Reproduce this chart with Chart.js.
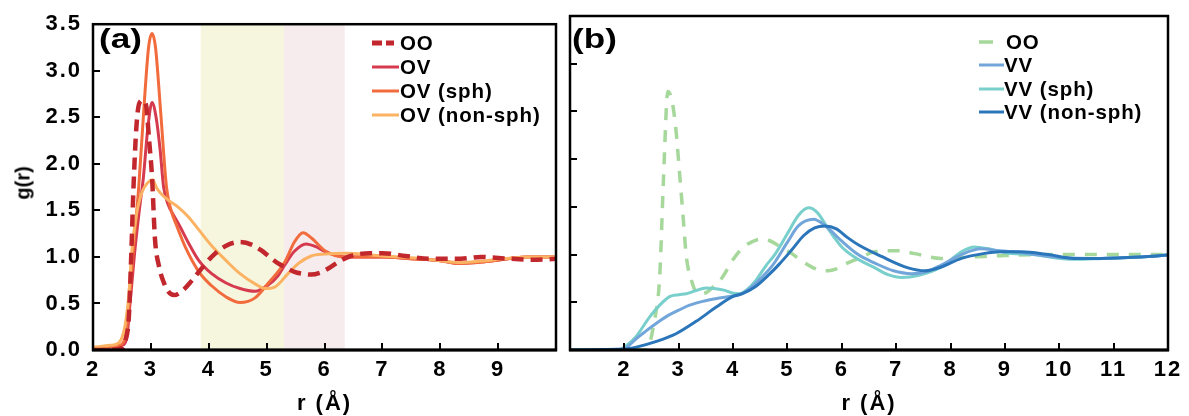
<!DOCTYPE html>
<html>
<head>
<meta charset="utf-8">
<script src="https://cdn.jsdelivr.net/npm/chart.js@4"></script>
<style>
body { margin: 0; background: #fff; width: 1189px; height: 416px; overflow: hidden; position: relative; font-family: "Liberation Sans", Arial, sans-serif; }
.panel { position: absolute; top: 0; height: 416px; }
#pa { left: 0; width: 563px; }
#pb { left: 563px; width: 626px; }
.tag { position: absolute; top: 24px; font-weight: bold; font-size: 27px; color: #000; transform: scaleX(1.3); transform-origin: left top; }
.ytitle { position: absolute; left: 23px; top: 183px; font-weight: bold; font-size: 20px; color: #000; transform: translate(-50%, -50%) rotate(-90deg); white-space: nowrap; }
.leg { position: absolute; font-weight: bold; font-size: 20.5px; letter-spacing: 0.9px; color: #000; }
.leg .row { display: flex; align-items: center; }
.leg svg { display: block; flex: none; }
</style>
</head>
<body>
<div class="panel" id="pa"><canvas id="chartA"></canvas></div>
<div class="panel" id="pb"><canvas id="chartB"></canvas></div>
<div class="tag" style="left:99px">(a)</div>
<div class="tag" style="left:572px">(b)</div>
<div class="ytitle">g(r)</div>
<div class="leg" id="legA" style="left:372px;top:31px"></div>
<div class="leg" id="legB" style="left:979px;top:30px"></div>
<script>
//panel (a) data: O-O and O-V g(r)
var rOO_a = [2.0, 2.3, 2.5, 2.56, 2.62, 2.66, 2.70, 2.75, 2.80, 2.86, 2.92, 2.97, 3.02, 3.07, 3.14, 3.22, 3.30, 3.40, 3.55, 3.70, 3.83, 4.05, 4.30, 4.54, 4.75, 4.91, 5.05, 5.20, 5.35, 5.48, 5.62, 5.77, 5.92, 6.05, 6.25, 6.45, 6.79, 7.00, 7.40, 7.80, 8.35, 8.70, 9.20, 9.67, 10.0];
var gOO_a = [0.0, 0.0, 0.02, 0.10, 0.36, 1.00, 1.75, 2.40, 2.65, 2.68, 2.62, 2.25, 1.86, 1.20, 0.90, 0.73, 0.63, 0.59, 0.64, 0.74, 0.84, 1.00, 1.12, 1.16, 1.13, 1.07, 1.00, 0.93, 0.88, 0.84, 0.82, 0.81, 0.83, 0.87, 0.95, 1.01, 1.04, 1.04, 1.01, 0.98, 0.98, 1.00, 0.98, 0.97, 0.98];

var rOV = [2.0, 2.3, 2.5, 2.58, 2.64, 2.72, 2.80, 2.87, 2.95, 3.02, 3.09, 3.16, 3.22, 3.30, 3.40, 3.50, 3.65, 3.83, 4.05, 4.30, 4.54, 4.80, 5.03, 5.20, 5.31, 5.48, 5.68, 5.85, 6.00, 6.35, 7.0, 7.5, 8.0, 8.34, 8.8, 9.5, 10.0];
var gOV = [0.02, 0.03, 0.05, 0.12, 0.50, 1.05, 1.50, 1.85, 2.40, 2.66, 2.50, 2.15, 1.75, 1.56, 1.44, 1.33, 1.15, 0.96, 0.82, 0.72, 0.66, 0.63, 0.70, 0.80, 0.91, 1.06, 1.14, 1.11, 1.06, 1.00, 1.00, 0.98, 0.96, 0.93, 0.95, 1.00, 1.00];

var rOVsph = [2.0, 2.3, 2.45, 2.55, 2.62, 2.70, 2.79, 2.88, 2.96, 3.02, 3.08, 3.17, 3.27, 3.35, 3.45, 3.60, 3.83, 4.05, 4.30, 4.54, 4.80, 5.03, 5.31, 5.48, 5.63, 5.78, 6.00, 6.35, 7.0, 7.5, 8.0, 8.34, 8.8, 9.49, 10.0];
var gOVsph = [0.02, 0.04, 0.05, 0.12, 0.45, 1.10, 1.75, 2.60, 3.25, 3.40, 3.25, 2.55, 1.75, 1.50, 1.33, 1.10, 0.84, 0.69, 0.57, 0.51, 0.56, 0.72, 0.94, 1.16, 1.26, 1.20, 1.07, 1.00, 1.00, 0.98, 0.96, 0.93, 0.95, 1.00, 1.00];

var rOVnon = [2.0, 2.3, 2.45, 2.55, 2.62, 2.67, 2.75, 2.85, 2.95, 3.03, 3.10, 3.19, 3.30, 3.48, 3.65, 3.83, 4.05, 4.30, 4.54, 4.80, 4.98, 5.15, 5.37, 5.55, 5.77, 6.00, 6.42, 7.0, 7.5, 8.0, 8.34, 8.8, 9.5, 10.0];
var gOVnon = [0.03, 0.05, 0.08, 0.25, 0.60, 1.06, 1.45, 1.70, 1.80, 1.83, 1.74, 1.67, 1.61, 1.53, 1.43, 1.29, 1.12, 0.96, 0.82, 0.71, 0.66, 0.68, 0.82, 0.93, 1.01, 1.03, 1.04, 1.01, 0.99, 0.96, 0.94, 0.96, 1.00, 1.00];

//panel (b) data: O-O and V-V g(r)
var rOO_b = [1.0, 2.0, 2.40, 2.55, 2.65, 2.72, 2.80, 2.88, 2.95, 3.01, 3.08, 3.14, 3.25, 3.35, 3.50, 3.63, 3.80, 3.99, 4.17, 4.30, 4.50, 4.65, 4.85, 5.08, 5.30, 5.57, 5.75, 5.90, 6.10, 6.31, 6.55, 6.80, 7.05, 7.34, 7.83, 8.20, 8.62, 9.00, 10.0, 11.0, 12.0];
var gOO_b = [0.0, 0.0, 0.0, 0.30, 0.77, 1.80, 2.71, 2.60, 2.30, 1.89, 1.40, 0.98, 0.70, 0.59, 0.60, 0.66, 0.76, 0.94, 1.07, 1.12, 1.16, 1.15, 1.09, 1.01, 0.92, 0.84, 0.83, 0.85, 0.91, 0.96, 1.02, 1.04, 1.04, 1.01, 0.96, 0.97, 0.98, 0.99, 1.00, 1.00, 1.00];

var rVV = [1.0, 1.95, 2.05, 2.22, 2.40, 2.59, 2.80, 3.01, 3.20, 3.44, 3.70, 3.93, 4.17, 4.40, 4.66, 4.78, 5.00, 5.20, 5.48, 5.70, 6.00, 6.30, 6.61, 6.95, 7.28, 7.55, 7.83, 8.20, 8.56, 8.90, 9.30, 10.00, 10.80, 11.50, 12.0];
var gVV = [0.0, 0.0, 0.03, 0.12, 0.20, 0.28, 0.36, 0.42, 0.47, 0.51, 0.54, 0.56, 0.59, 0.69, 0.84, 0.93, 1.13, 1.30, 1.37, 1.30, 1.14, 1.00, 0.91, 0.83, 0.80, 0.82, 0.89, 1.00, 1.06, 1.04, 1.02, 0.97, 0.96, 0.975, 0.995];

var rVVsph = [1.0, 1.9, 2.0, 2.20, 2.47, 2.65, 2.83, 3.00, 3.14, 3.30, 3.50, 3.65, 3.81, 4.00, 4.11, 4.25, 4.42, 4.60, 4.78, 5.00, 5.20, 5.39, 5.55, 5.75, 6.00, 6.30, 6.61, 6.85, 7.10, 7.40, 7.83, 8.20, 8.44, 8.70, 9.00, 9.50, 10.27, 10.80, 11.50, 12.0];
var gVVsph = [0.0, 0.0, 0.03, 0.13, 0.35, 0.47, 0.56, 0.58, 0.59, 0.62, 0.65, 0.645, 0.63, 0.595, 0.59, 0.63, 0.73, 0.88, 1.01, 1.22, 1.41, 1.49, 1.44, 1.27, 1.08, 0.95, 0.86, 0.79, 0.76, 0.78, 0.87, 1.03, 1.08, 1.06, 1.02, 1.00, 0.95, 0.96, 0.975, 0.995];

var rVVnon = [1.0, 2.0, 2.22, 2.59, 2.95, 3.32, 3.69, 3.99, 4.17, 4.40, 4.66, 4.85, 5.08, 5.30, 5.50, 5.69, 5.90, 6.10, 6.31, 6.73, 7.22, 7.53, 7.83, 8.20, 8.60, 8.93, 9.30, 9.80, 10.27, 10.76, 11.50, 12.0];
var gVVnon = [0.0, 0.01, 0.03, 0.09, 0.17, 0.30, 0.45, 0.56, 0.59, 0.66, 0.79, 0.90, 1.05, 1.20, 1.28, 1.30, 1.27, 1.18, 1.10, 0.98, 0.86, 0.83, 0.87, 0.96, 1.01, 1.03, 1.03, 1.00, 0.96, 0.96, 0.975, 0.995];

//labels and tick values
var labelsA = ['OO', 'OV', 'OV (sph)', 'OV (non-sph)'];
var labelsB = ['OO', 'VV', 'VV (sph)', 'VV (non-sph)'];
var yTicks = [0, 0.5, 1, 1.5, 2, 2.5, 3, 3.5];
var xTicksA = [3, 4, 5, 6, 7, 8, 9];
var xTicksB = [2, 3, 4, 5, 6, 7, 8, 9, 10, 11];
//shaded r ranges in panel (a)
var bandFrom = [3.86, 5.30];
var bandTo = [5.30, 6.35];

var colorsA = ['#c1272d', '#d63a4e', '#f26b3c', '#fbb262'];
var colorsB = ['#a6d89b', '#72a6da', '#78cfcb', '#2b76ba'];
var bandColors = ['#f6f6df', '#f6ebed'];

var FONT = '"Liberation Sans", Arial, sans-serif';

function pts(r, g) {
	return r.map(function(v, i) { return {x: v, y: g[i]}; });
}

function line(label, r, g, color, dash, width, order) {
	return {
		label: label,
		data: pts(r, g),
		borderColor: color,
		borderWidth: width,
		borderDash: dash,
		pointRadius: 0,
		fill: false,
		cubicInterpolationMode: 'monotone',
		order: order
	};
}

//draws shaded bands, the frame and the inward ticks; also widens tick text a bit
var framePlugin = {
	id: 'frame',
	beforeDraw: function(chart) {
		chart.ctx.letterSpacing = '2px';
	},
	beforeDatasetsDraw: function(chart, args, opts) {
		var a = chart.chartArea, ctx = chart.ctx, xs = chart.scales.x;
		(opts.bands || []).forEach(function(b) {
			var x0 = xs.getPixelForValue(b.from), x1 = xs.getPixelForValue(b.to);
			ctx.save();
			ctx.fillStyle = b.color;
			ctx.fillRect(x0, a.top, x1 - x0, a.bottom - a.top);
			ctx.restore();
		});
	},
	afterDraw: function(chart, args, opts) {
		var a = chart.chartArea, ctx = chart.ctx;
		ctx.save();
		ctx.strokeStyle = '#000';
		ctx.lineWidth = 2;
		ctx.beginPath();
		opts.xTicks.forEach(function(v) {
			var px = Math.round(chart.scales.x.getPixelForValue(v));
			ctx.moveTo(px, a.bottom); ctx.lineTo(px, a.bottom - 7);
		});
		opts.yTicks.forEach(function(v) {
			var py = Math.round(chart.scales.y.getPixelForValue(v));
			ctx.moveTo(a.left, py); ctx.lineTo(a.left + 7, py);
		});
		ctx.stroke();
		ctx.lineWidth = 2.5;
		ctx.strokeRect(a.left, a.top, a.right - a.left, a.bottom - a.top);
		ctx.lineWidth = 3;
		ctx.beginPath();
		ctx.moveTo(a.left - 1, a.bottom); ctx.lineTo(a.right + 1, a.bottom);
		ctx.stroke();
		ctx.restore();
	}
};

var tickFont = {family: FONT, size: 22, weight: 'bold'};

//panel (a)
var chartA = new Chart(document.getElementById('chartA'), {
	type: 'line',
	data: {
		datasets: [
			line(labelsA[0], rOO_a, gOO_a, colorsA[0], [12, 7], 4.5, 0),
			line(labelsA[1], rOV, gOV, colorsA[1], [], 3, 3),
			line(labelsA[2], rOVsph, gOVsph, colorsA[2], [], 3, 2),
			line(labelsA[3], rOVnon, gOVnon, colorsA[3], [], 3, 1)
		]
	},
	options: {
		responsive: true,
		maintainAspectRatio: false,
		animation: false,
		layout: {padding: {top: 16, right: 5, left: 0, bottom: 0}},
		plugins: {
			legend: {display: false},
			tooltip: {enabled: false},
			frame: {
				xTicks: xTicksA, yTicks: yTicks,
				bands: bandFrom.map(function(f, i) { return {from: f, to: bandTo[i], color: bandColors[i]}; })
			}
		},
		scales: {
			x: {
				type: 'linear', min: 2, max: 10,
				grid: {display: false, drawTicks: false},
				border: {display: false},
				ticks: {stepSize: 1, padding: 7, color: '#000', font: tickFont, maxRotation: 0, autoSkip: false,
					callback: function(v) { return v === 10 ? '' : v; }},
				title: {display: true, text: 'r (Å)', color: '#000', font: tickFont, padding: {top: 0, bottom: -1}},
				afterFit: function(s) { s.height = 66; }
			},
			y: {
				min: 0, max: 3.5,
				grid: {display: false, drawTicks: false},
				border: {display: false},
				ticks: {stepSize: 0.5, padding: 11, color: '#000', font: tickFont,
					callback: function(v) { return v.toFixed(1); }},
				afterFit: function(s) { s.width = 93; }
			}
		}
	},
	plugins: [framePlugin]
});

//panel (b)
var chartB = new Chart(document.getElementById('chartB'), {
	type: 'line',
	data: {
		datasets: [
			line(labelsB[0], rOO_b, gOO_b, colorsB[0], [12, 10], 3.5, 3),
			line(labelsB[1], rVV, gVV, colorsB[1], [], 3, 1),
			line(labelsB[2], rVVsph, gVVsph, colorsB[2], [], 3, 2),
			line(labelsB[3], rVVnon, gVVnon, colorsB[3], [], 3, 0)
		]
	},
	options: {
		responsive: true,
		maintainAspectRatio: false,
		animation: false,
		layout: {padding: {top: 16, right: 21, left: 4, bottom: 0}},
		plugins: {
			legend: {display: false},
			tooltip: {enabled: false},
			frame: {xTicks: xTicksB, yTicks: yTicks.slice(1, 7)}
		},
		scales: {
			x: {
				type: 'linear', min: 1, max: 12,
				grid: {display: false, drawTicks: false},
				border: {display: false},
				ticks: {stepSize: 1, padding: 7, color: '#000', font: tickFont, maxRotation: 0, autoSkip: false,
					callback: function(v) { return v === 1 ? '' : v; }},
				title: {display: true, text: 'r (Å)', color: '#000', font: tickFont, padding: {top: 0, bottom: -1}},
				afterFit: function(s) { s.height = 66; }
			},
			y: {
				display: false,
				min: 0, max: 3.5
			}
		}
	},
	plugins: [framePlugin]
});

//legends as html rows next to a line sample
function buildLegend(id, labels, colors, samples, rowH) {
	var box = document.getElementById(id);
	labels.forEach(function(lab, i) {
		var s = samples[i];
		var row = document.createElement('div');
		row.className = 'row';
		row.style.height = rowH + 'px';
		row.innerHTML = '<svg width="' + s.w + '" height="10"><line x1="0" y1="5" x2="' + s.len + '" y2="5" stroke="' + colors[i] +
			'" stroke-width="' + s.sw + '" stroke-dasharray="' + s.dash + '"/></svg><span>' + lab + '</span>';
		box.appendChild(row);
	});
}

buildLegend('legA', labelsA, colorsA, [
	{w: 28, len: 26, sw: 5, dash: '10 4 8 4 3'},
	{w: 28, len: 27, sw: 3, dash: ''},
	{w: 28, len: 27, sw: 3, dash: ''},
	{w: 28, len: 27, sw: 3, dash: ''}
], 24);

buildLegend('legB', labelsB, colorsB, [
	{w: 27, len: 14, sw: 3.5, dash: ''},
	{w: 25, len: 25, sw: 3, dash: ''},
	{w: 25, len: 25, sw: 3, dash: ''},
	{w: 25, len: 25, sw: 3, dash: ''}
], 23.5);
</script>
</body>
</html>
